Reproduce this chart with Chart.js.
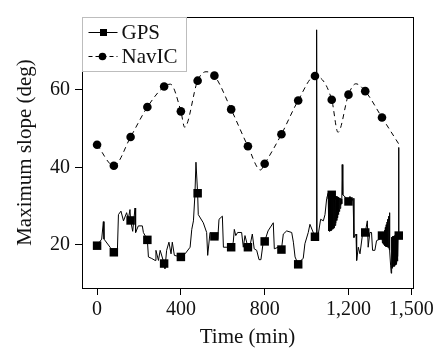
<!DOCTYPE html>
<html>
<head>
<meta charset="utf-8">
<script src="https://cdn.jsdelivr.net/npm/chart.js@4.4.1/dist/chart.umd.min.js"></script>
<style>
  html, body { margin: 0; padding: 0; background: #fff; }
  #wrap { width: 438px; height: 350px; }
</style>
</head>
<body>
<div id="wrap"><canvas id="slope_canvas" width="438" height="350"></canvas></div>
<script>
// GPS maximum slope trace (min, deg)
var gpsTime = [0, 22, 30, 33, 62, 80, 97, 102, 114, 126, 141, 149, 157, 160, 170, 181, 184, 197, 216, 221,
  240, 245, 261, 277, 281, 293, 301, 320, 324, 332, 343, 353, 359, 369, 400, 420, 444, 452, 460, 467,
  472, 480, 483, 507, 523, 528, 539, 560, 576, 582, 598, 603, 622, 640, 650, 655, 662, 671, 690, 698,
  706, 720, 730, 741, 750, 762, 773, 782, 793, 800, 816, 841, 846, 865, 880, 889, 905, 929, 937, 945,
  960, 973, 984, 992, 1008, 1016, 1040, 1046, 1048, 1050, 1056, 1067, 1080, 1088, 1096, 1103,
  1105, 1106, 1107, 1108, 1109, 1110, 1111, 1112, 1113, 1114, 1115, 1116, 1117, 1118, 1119, 1120,
  1121, 1122, 1123, 1124, 1125, 1126, 1127, 1128, 1129, 1130, 1131, 1132, 1133, 1134, 1136, 1138,
  1140, 1142, 1144, 1146, 1148, 1150, 1152, 1154, 1156, 1158, 1160, 1162, 1164, 1166, 1168, 1170,
  1173, 1191, 1200, 1207, 1215, 1222, 1226, 1236, 1239, 1247, 1255, 1268, 1280, 1290, 1294, 1302,
  1310, 1315, 1326, 1334, 1350, 1360, 1362, 1364, 1366, 1368, 1370, 1372, 1374, 1376, 1378, 1380,
  1382, 1384, 1386, 1388, 1390, 1392, 1394, 1395, 1398, 1401, 1404, 1405, 1406, 1407, 1408, 1409,
  1410, 1411, 1412, 1414, 1415, 1417, 1418, 1420, 1421, 1423, 1424, 1426, 1427, 1429, 1430, 1432,
  1433, 1435, 1436, 1437, 1439, 1441];
var gpsSlope = [19.8, 21.5, 26.0, 21.5, 19.4, 18.1, 18.6, 27.8, 28.7, 26.2, 28.3, 26.6, 29.1, 26.3, 23.5, 29.5, 23.2, 24.9, 24.9, 23.2,
  21.3, 16.9, 16.5, 16.0, 18.6, 16.0, 18.6, 15.2, 13.9, 18.6, 20.7, 17.7, 20.7, 17.3, 16.9, 17.7, 19.4, 24.0, 26.2, 32.9,
  41.3, 33.3, 27.8, 25.7, 23.2, 17.3, 23.2, 22.2, 21.5, 26.6, 27.4, 19.4, 19.4, 19.4, 20.7, 24.0, 22.4, 23.2, 23.2, 19.4,
  22.4, 19.4, 19.8, 22.8, 19.0, 18.6, 16.2, 16.2, 20.7, 20.9, 23.6, 25.7, 19.0, 19.4, 18.8, 22.8, 23.6, 23.2, 20.7, 16.9,
  15.0, 16.0, 16.5, 20.3, 23.2, 25.3, 22.1, 22.1, 75.4, 22.4, 22.8, 26.6, 26.2, 27.8, 32.0, 33.3,
  24.0, 33.6, 23.6, 33.6, 23.5, 33.7, 23.5, 33.6, 23.6, 33.5, 23.6, 33.4, 23.7, 33.3, 23.8, 32.9,
  23.9, 33.2, 24.0, 33.1, 24.1, 33.0, 24.2, 33.0, 24.3, 32.9, 24.4, 32.8, 24.6, 32.7, 25.0, 32.6,
  25.6, 32.5, 26.3, 32.4, 27.0, 32.3, 27.8, 32.2, 28.6, 32.1, 29.4, 32.0, 30.2, 31.8, 30.6, 40.7,
  32.9, 32.0, 31.2, 32.5, 31.2, 32.0, 21.9, 22.8, 16.0, 19.4, 17.7, 23.2, 23.2, 26.2, 19.4, 23.2,
  23.2, 18.6, 18.6, 21.1, 21.5, 22.4, 20.5, 22.6, 20.2, 23.2, 20.0, 23.8, 19.8, 24.5, 19.6, 25.2,
  19.5, 25.9, 19.4, 26.6, 19.3, 27.4, 19.0, 28.3, 18.6, 14.8, 12.7, 21.9, 13.5, 22.0, 14.0, 22.1,
  14.2, 22.2, 14.3, 22.3, 14.4, 22.3, 14.5, 22.4, 14.6, 22.4, 14.8, 22.5, 15.0, 22.5, 15.3, 22.6,
  15.8, 22.6, 17.0, 22.4, 45.1, 22.4];
var gpsMarkTime = [0, 80, 160, 240, 320, 400, 480, 560, 640, 720, 800, 880, 960, 1040, 1120, 1200, 1280, 1360, 1440];
var gpsMarkSlope = [19.8, 18.1, 26.3, 21.3, 15.2, 16.9, 33.3, 22.2, 19.4, 19.4, 20.9, 18.8, 15.0, 22.1, 32.9, 31.2, 23.2, 22.4, 22.4];

// NavIC maximum slope curve
var navicTime = [0, 80, 160, 240, 320, 350, 400, 418, 480, 520, 560, 640, 720, 780, 800, 880, 960, 1040, 1120, 1150,
  1200, 1235, 1280, 1360, 1440];
var navicSlope = [45.8, 40.4, 47.8, 55.5, 60.8, 61.4, 54.4, 50.3, 62.3, 64.6, 63.6, 54.9, 45.4, 39.3, 40.9, 48.5, 57.2, 63.5, 57.4, 49.0,
  58.7, 61.5, 59.6, 52.8, 46.0];
var navicMarkTime = [0, 80, 160, 240, 320, 400, 480, 560, 640, 720, 800, 880, 960, 1040, 1120, 1200, 1280, 1360];
var navicMarkSlope = [45.8, 40.4, 47.8, 55.5, 60.8, 54.4, 62.3, 63.6, 54.9, 45.4, 40.9, 48.5, 57.2, 63.5, 57.4, 58.7, 59.6, 52.8];

var xTicks = [0, 400, 800, 1200, 1500];
var yTicks = [20, 40, 60];

var FONT = "'Liberation Serif', 'Times New Roman', serif";

function pts(xs, ys) {
    var out = [];
    for (var i in xs) {
        out.push({x: xs[i], y: ys[i]});
    }
    return out;
}

// box round the plot plus the legend in the upper left corner
var frameLegend = {
    id: 'frameLegend',
    afterDatasetsDraw: function(chart) {
        var ctx = chart.ctx;
        var a = chart.chartArea;
        var l = Math.round(a.left) + 0.5, t = Math.round(a.top) + 0.5;
        var r = Math.round(a.right) + 0.5, b = Math.round(a.bottom) + 0.5;
        ctx.save();
        ctx.strokeStyle = '#000';
        ctx.lineWidth = 1;
        ctx.strokeRect(l, t, r - l, b - t);

        // legend box
        var lw = 104, lh = 54;
        ctx.fillStyle = '#fff';
        ctx.fillRect(l, t, lw, lh);
        ctx.strokeStyle = '#bdbdbd';
        ctx.strokeRect(l, t, lw, lh);

        ctx.strokeStyle = '#000';
        ctx.fillStyle = '#000';
        // GPS entry
        var y1 = t + 15;
        ctx.beginPath();
        ctx.moveTo(l + 6, y1);
        ctx.lineTo(l + 35, y1);
        ctx.stroke();
        ctx.fillRect(l + 21 - 3.5, y1 - 3.5, 7, 7);
        // NavIC entry
        var y2 = t + 39;
        ctx.setLineDash([4, 3]);
        ctx.beginPath();
        ctx.moveTo(l + 6, y2);
        ctx.lineTo(l + 35, y2);
        ctx.stroke();
        ctx.setLineDash([]);
        ctx.beginPath();
        ctx.arc(l + 20, y2, 3.8, 0, Math.PI * 2);
        ctx.fill();

        ctx.font = '21px ' + FONT;
        ctx.fillStyle = '#111';
        ctx.textBaseline = 'middle';
        ctx.textAlign = 'left';
        ctx.fillText('GPS', l + 39, y1 + 1);
        ctx.fillText('NavIC', l + 39, y2 + 1);
        ctx.restore();
    }
};

var chartdata = {
    datasets: [
        {
            label: 'GPS',
            data: pts(gpsTime, gpsSlope),
            borderColor: '#000',
            borderWidth: 1,
            pointRadius: 0,
            tension: 0
        },
        {
            label: 'GPS markers',
            data: pts(gpsMarkTime, gpsMarkSlope),
            showLine: false,
            pointStyle: 'rect',
            pointRadius: 6,
            pointBorderWidth: 0,
            pointBackgroundColor: '#000',
            borderColor: '#000'
        },
        {
            label: 'NavIC',
            data: pts(navicTime, navicSlope),
            borderColor: '#000',
            borderWidth: 1,
            borderDash: [5, 4],
            pointRadius: 0,
            cubicInterpolationMode: 'monotone'
        },
        {
            label: 'NavIC markers',
            data: pts(navicMarkTime, navicMarkSlope),
            showLine: false,
            pointStyle: 'circle',
            pointRadius: 4.3,
            pointBorderWidth: 0,
            pointBackgroundColor: '#000',
            borderColor: '#000'
        }
    ]
};

var options = {
    responsive: false,
    animation: false,
    layout: { padding: { left: 13, top: 13, right: 25, bottom: 0 } },
    plugins: {
        legend: { display: false },
        tooltip: { enabled: false }
    },
    scales: {
        x: {
            type: 'linear',
            min: -72,
            max: 1508,
            afterBuildTicks: function(s) {
                s.ticks = xTicks.map(function(v) { return {value: v}; });
            },
            afterFit: function(s) { s.height = 62; },
            grid: { drawOnChartArea: false, drawTicks: true, tickLength: 7, color: '#000' },
            border: { display: true, color: '#000' },
            ticks: {
                padding: 3,
                color: '#111',
                font: { family: FONT, size: 20 },
                callback: function(v) { return v.toLocaleString('en-US'); }
            },
            title: {
                display: true,
                text: 'Time (min)',
                color: '#111',
                padding: 0,
                font: { family: FONT, size: 21 }
            }
        },
        y: {
            min: 8.9,
            max: 78.7,
            afterBuildTicks: function(s) {
                s.ticks = yTicks.map(function(v) { return {value: v}; });
            },
            afterFit: function(s) { s.width = 69; },
            grid: { drawOnChartArea: false, drawTicks: true, tickLength: 7, color: '#000' },
            border: { display: true, color: '#000' },
            ticks: {
                padding: 5,
                color: '#111',
                font: { family: FONT, size: 20 }
            },
            title: {
                display: true,
                text: 'Maximum slope (deg)',
                color: '#111',
                padding: 0,
                font: { family: FONT, size: 21 }
            }
        }
    }
};

var chart = new Chart(document.getElementById('slope_canvas'), {
    type: 'line',
    data: chartdata,
    options: options,
    plugins: [frameLegend]
});
</script>
</body>
</html>
